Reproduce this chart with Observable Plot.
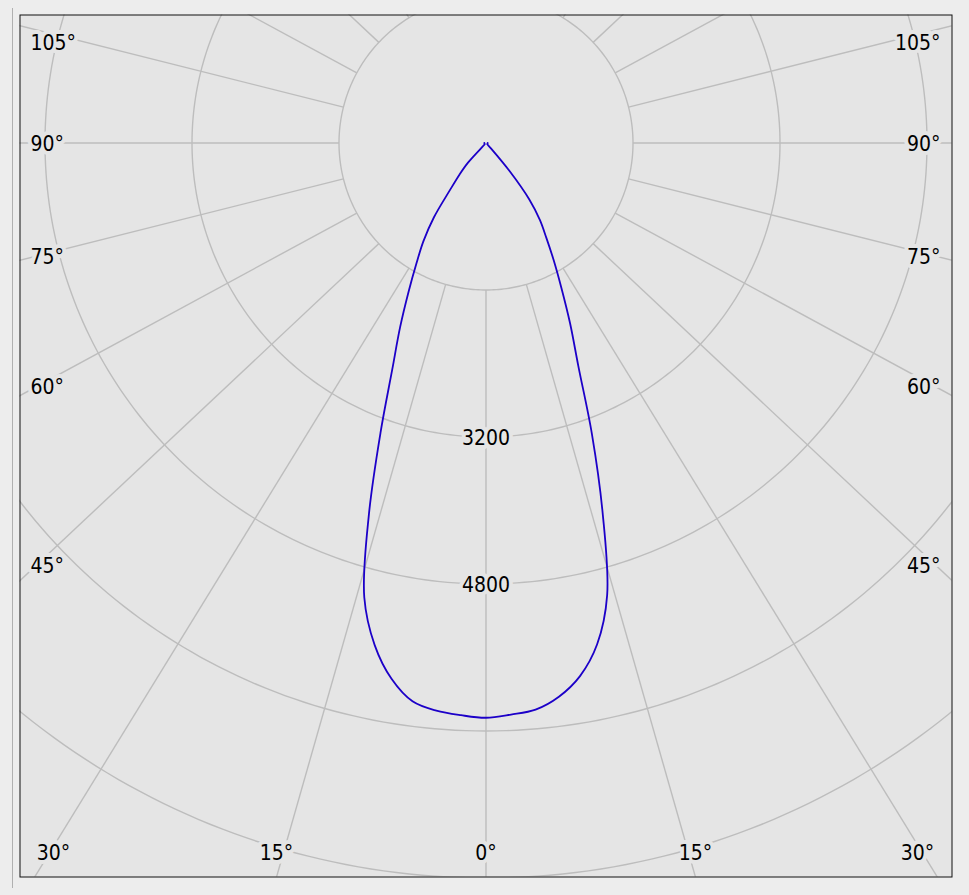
<!DOCTYPE html>
<html>
<head>
<meta charset="utf-8">
<script src="https://cdn.jsdelivr.net/npm/d3@7"></script>
<script src="https://cdn.jsdelivr.net/npm/@observablehq/plot@0.6"></script>
<style>
  html, body { margin: 0; padding: 0; background: #ededed; }
  #wrap { position: relative; width: 969px; height: 895px; overflow: hidden; }
  #edge { position: absolute; left: 12px; top: 8px; width: 1px; height: 880px; background: #b0b0b0; }
  #wrap svg { position: absolute; left: 0; top: 0; }
  #wrap svg text { font-stretch: condensed; paint-order: stroke; }
</style>
</head>
<body>
<div id="wrap"><div id="edge"></div></div>
<script>
// ---------- data ----------
// gamma angle from nadir (deg)
const gammaAngles = [0,2.5,5,7.5,10,12.5,15,17.5,20,22.5,25,27.5,30,32.5,35,37.5,40,42.5,
                     45,47.5,50,52.5,55,57.5,60,62.5,65,67.5,70,72.5,75,77.5,80,82.5,85,87.5,90];
// luminous intensity (cd), left half of the diagram (C180)
const intensityC180 = [6256,6234,6202,6129,5922,5598,5119,4238,3358,2665,2212,1825,1515,1267,990,640,450,290,
                       20,18,18,18,18,18,18,18,18,18,18,18,18,18,18,18,18,18,18];
// luminous intensity (cd), right half of the diagram (C0)
const intensityC0   = [6256,6227,6191,6079,5892,5589,5095,4222,3371,2625,2165,1776,1474,1221,1022,772,402,80,
                       20,18,18,18,18,18,18,18,18,18,18,18,18,18,18,18,18,18,18];
// grid circles (cd) and the ones carrying a label
const ringValues = [1600, 3200, 4800, 6400, 8000];
const ringLabels = [3200, 4800];
// radial grid lines (deg) and the labelled angles
const spokeAngles = [0,15,30,45,60,75,90,105,120,135,150,165,180,195,210,225,240,255,270,285,300,315,330,345];
const angleLabels = [0, 15, 30, 45, 60, 75, 90, 105];

// ---------- layout ----------
const W = 969, H = 895;
const CX = 485.5, CY = 142.5;            // pole, px
const PX_PER_CD = 147 / 1600;
const FRAME = {left: 19.5, right: 951.5, top: 14.5, bottom: 876.5};
const K = 1.065;                          // horizontal stretch of the radial lines in the source
const BG_IN = "#e5e5e5";
const GRID = "#bdbdbd";
const CURVE = "#1c00c8";
const toX = px => (px - CX) / PX_PER_CD;
const toY = py => (CY - py) / PX_PER_CD;
const rad = d => d * Math.PI / 180;

// curve points: left half from 90° down to 0°, then right half 0° → 90°
const curvePts = [];
for (let i = gammaAngles.length - 1; i >= 0; --i) {
  const t = rad(gammaAngles[i]), r = intensityC180[i];
  curvePts.push({x: -r * Math.sin(t), y: -r * Math.cos(t)});
}
for (let i = 1; i < gammaAngles.length; ++i) {
  const t = rad(gammaAngles[i]), r = intensityC0[i];
  curvePts.push({x: r * Math.sin(t), y: -r * Math.cos(t)});
}

// circles
const ringPts = [];
for (const r of ringValues) {
  for (let a = 0; a <= 360; a += 1) {
    ringPts.push({ring: r, x: r * Math.sin(rad(a)), y: -r * Math.cos(rad(a))});
  }
}

// spokes from the first circle outwards
const spokes = spokeAngles.map(a => {
  const ux = K * Math.sin(rad(a)), uy = -Math.cos(rad(a));
  const n = Math.hypot(ux, uy);
  const r0 = ringValues[0], r1 = 14000;
  return {x1: r0 * ux / n, y1: r0 * uy / n, x2: r1 * ux / n, y2: r1 * uy / n};
});

// angle label placement (pixel geometry → data units)
function placeLabel(a, side) {
  const dx = side * K * Math.sin(rad(a)), dy = Math.cos(rad(a));
  if (a === 0) return {px: CX, py: 852, anchor: "middle"};
  const tSide = Math.abs(dx) > 1e-9 ? (side < 0 ? CX - 36 : 935 - CX) / Math.abs(dx) : Infinity;
  const tBot = dy > 1e-9 ? (862 - CY) / dy : Infinity;
  if (tBot < tSide) {
    const t = (FRAME.bottom - CY) / dy;
    const px = Math.max(53, Math.min(917, CX + dx * t));
    return {px, py: 852, anchor: "middle"};
  }
  const py = Math.max(42, CY + dy * tSide);
  return {px: side < 0 ? 30 : 940, py, anchor: side < 0 ? "start" : "end"};
}
const labelPts = [];
for (const a of angleLabels) {
  for (const side of (a === 0 ? [1] : [-1, 1])) {
    const p = placeLabel(a, side);
    labelPts.push({text: a + "°", x: toX(p.px), y: toY(p.py), anchor: p.anchor});
  }
}

const textOpts = {fontSize: 21, fill: "#000", stroke: BG_IN, strokeWidth: 8, strokeLinejoin: "round", dy: 1};

const chart = Plot.plot({
  width: W, height: H,
  marginLeft: FRAME.left, marginRight: W - FRAME.right,
  marginTop: FRAME.top, marginBottom: H - FRAME.bottom,
  x: {domain: [toX(FRAME.left), toX(FRAME.right)], axis: null},
  y: {domain: [toY(FRAME.bottom), toY(FRAME.top)], axis: null},
  style: {background: "transparent", fontFamily: "'DejaVu Sans Condensed', 'DejaVu Sans', sans-serif", overflow: "hidden"},
  marks: [
    Plot.frame({fill: BG_IN, stroke: "none"}),
    Plot.line(ringPts, {x: "x", y: "y", z: "ring", stroke: GRID, strokeWidth: 1.4, clip: true}),
    Plot.link(spokes, {x1: "x1", y1: "y1", x2: "x2", y2: "y2", stroke: GRID, strokeWidth: 1.4, clip: true}),
    Plot.line(curvePts, {x: "x", y: "y", stroke: CURVE, strokeWidth: 1.8, curve: "catmull-rom", clip: true}),
    Plot.text(ringLabels, {...textOpts, x: () => 0, y: d => -d, text: d => String(d), dy: 1.5}),
    Plot.text(labelPts.filter(d => d.anchor === "start"), {...textOpts, x: "x", y: "y", text: "text", textAnchor: "start"}),
    Plot.text(labelPts.filter(d => d.anchor === "end"), {...textOpts, x: "x", y: "y", text: "text", textAnchor: "end"}),
    Plot.text(labelPts.filter(d => d.anchor === "middle"), {...textOpts, x: "x", y: "y", text: "text", textAnchor: "middle"}),
    Plot.frame({stroke: "#111", strokeWidth: 1, fill: "none"})
  ]
});
document.getElementById("wrap").appendChild(chart);
</script>
</body>
</html>
